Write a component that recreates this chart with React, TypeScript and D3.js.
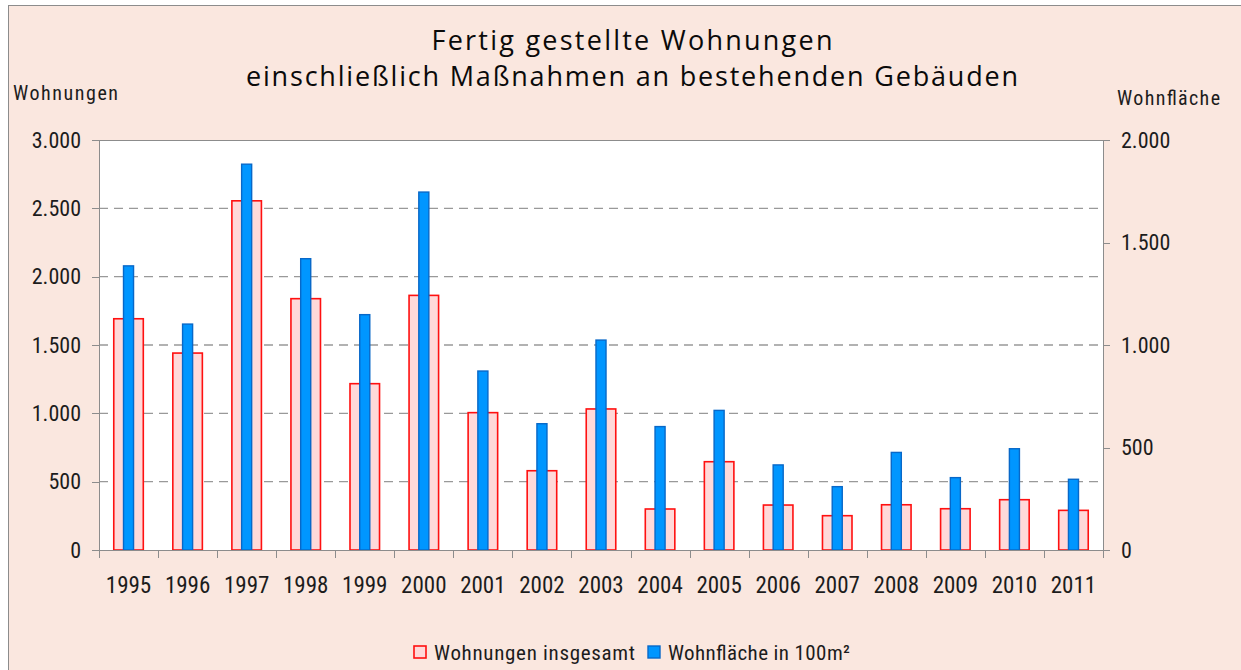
import React from "react";
import * as d3 from "d3";

const years = ["1995","1996","1997","1998","1999","2000","2001","2002","2003","2004","2005","2006","2007","2008","2009","2010","2011"];
const wohnungen = [1692,1441,2555,1839,1217,1863,1005,580,1032,300,646,329,251,331,302,368,290];
const wohnflaeche = [1386,1102,1882,1421,1148,1746,873,616,1024,602,681,415,309,476,353,494,345];
const leftTicks = [0,500,1000,1500,2000,2500,3000];
const rightTicks = [0,500,1000,1500,2000];

const fmt = (v: number) => (v >= 1000 ? `${Math.floor(v / 1000)}.${String(v % 1000).padStart(3, "0")}` : String(v));

export default function App() {
  const W = 1241, H = 670;
  const L = 99, R = 1103, T = 140, B = 550;
  const x = d3.scaleBand<string>().domain(years).range([L, R]).padding(0);
  const yL = d3.scaleLinear().domain([0, 3000]).range([B, T]);
  const yR = d3.scaleLinear().domain([0, 2000]).range([B, T]);
  const bw = x.bandwidth();
  const redW = bw * 0.5;
  const blueW = bw * 0.17;
  const font = "'Liberation Sans Narrow', 'Roboto Condensed', 'DejaVu Sans Condensed', Roboto, sans-serif";
  const titleFont = "'Open Sans', 'DejaVu Sans', sans-serif";
  const txt = "#1c1c1c";
  return (
    <svg width={W} height={H} style={{ position: "absolute", left: 0, top: 0 }}>
      <rect x={8.5} y={5.5} width={1240} height={680} fill="#FAE7DF" stroke="#8c8c8c" strokeWidth={1} />
      <text x={632} y={50} textAnchor="middle" fontFamily={titleFont} fontSize={27} fill="#0a0a0a" textLength={401} lengthAdjust="spacing">Fertig gestellte Wohnungen</text>
      <text x={632} y={86} textAnchor="middle" fontFamily={titleFont} fontSize={27} fill="#0a0a0a" textLength={772} lengthAdjust="spacing">einschließlich Maßnahmen an bestehenden Gebäuden</text>
      <text x={13} y={100} fontFamily={font} fontSize={20} fill={txt} textLength={105} lengthAdjust="spacing">Wohnungen</text>
      <text x={1117} y={105} fontFamily={font} fontSize={20} fill={txt} textLength={103} lengthAdjust="spacing">Wohnfläche</text>
      <rect x={L} y={T} width={R - L} height={B - T} fill="#fff" />
      {leftTicks.filter(t => t > 0 && t < 3000).map(t => (
        <line key={"g" + t} x1={L} x2={R} y1={yL(t)} y2={yL(t)} stroke="#999" strokeWidth={1.3} strokeDasharray="9,6" />
      ))}
      <line x1={L} x2={R} y1={T + 0.5} y2={T + 0.5} stroke="#8c8c8c" />
      <line x1={L + 0.5} x2={L + 0.5} y1={T} y2={B} stroke="#8c8c8c" />
      <line x1={R + 0.5} x2={R + 0.5} y1={T} y2={B} stroke="#8c8c8c" />
      {leftTicks.map(t => (
        <g key={"l" + t}>
          <line x1={L - 7} x2={L} y1={Math.round(yL(t)) + 0.5} y2={Math.round(yL(t)) + 0.5} stroke="#8c8c8c" />
          <text x={81} y={yL(t)} dy="0.35em" textAnchor="end" fontFamily={font} fontSize={22} fill={txt}>{fmt(t)}</text>
        </g>
      ))}
      {rightTicks.map(t => (
        <g key={"r" + t}>
          <line x1={R} x2={R + 7} y1={Math.round(yR(t)) + 0.5} y2={Math.round(yR(t)) + 0.5} stroke="#8c8c8c" />
          <text x={1121} y={yR(t)} dy="0.35em" textAnchor="start" fontFamily={font} fontSize={22} fill={txt}>{fmt(t)}</text>
        </g>
      ))}
      {years.map((yr, i) => (
        <g key={yr}>
          <rect x={x(yr)! + bw / 2 - redW / 2} y={yL(wohnungen[i])} width={redW} height={B - yL(wohnungen[i])} fill="#FFD9D9" stroke="#FF1010" strokeWidth={1.6} />
          <rect x={x(yr)! + bw / 2 - blueW / 2} y={yR(wohnflaeche[i])} width={blueW} height={B - yR(wohnflaeche[i])} fill="#0096FF" stroke="#0868C8" strokeWidth={1.4} />
          <text x={x(yr)! + bw / 2} y={593} textAnchor="middle" fontFamily={font} fontSize={23} fill={txt}>{yr}</text>
        </g>
      ))}
      <line x1={L} x2={R} y1={B + 0.5} y2={B + 0.5} stroke="#8c8c8c" />
      {years.concat(["end"]).map((_, i) => {
        const xx = Math.round(L + i * bw) + 0.5;
        return <line key={"t" + i} x1={xx} x2={xx} y1={B} y2={B + 8} stroke="#8c8c8c" />;
      })}
      <rect x={414} y={646} width={12} height={12} fill="#FFD9D9" stroke="#FF1010" strokeWidth={1.6} />
      <text x={434} y={660} fontFamily={font} fontSize={21} fill={txt} textLength={201} lengthAdjust="spacing">Wohnungen insgesamt</text>
      <rect x={648} y={646} width={12} height={12} fill="#0096FF" stroke="#0868C8" strokeWidth={1.4} />
      <text x={668} y={660} fontFamily={font} fontSize={21} fill={txt} textLength={182} lengthAdjust="spacing">Wohnfläche in 100m²</text>
    </svg>
  );
}
